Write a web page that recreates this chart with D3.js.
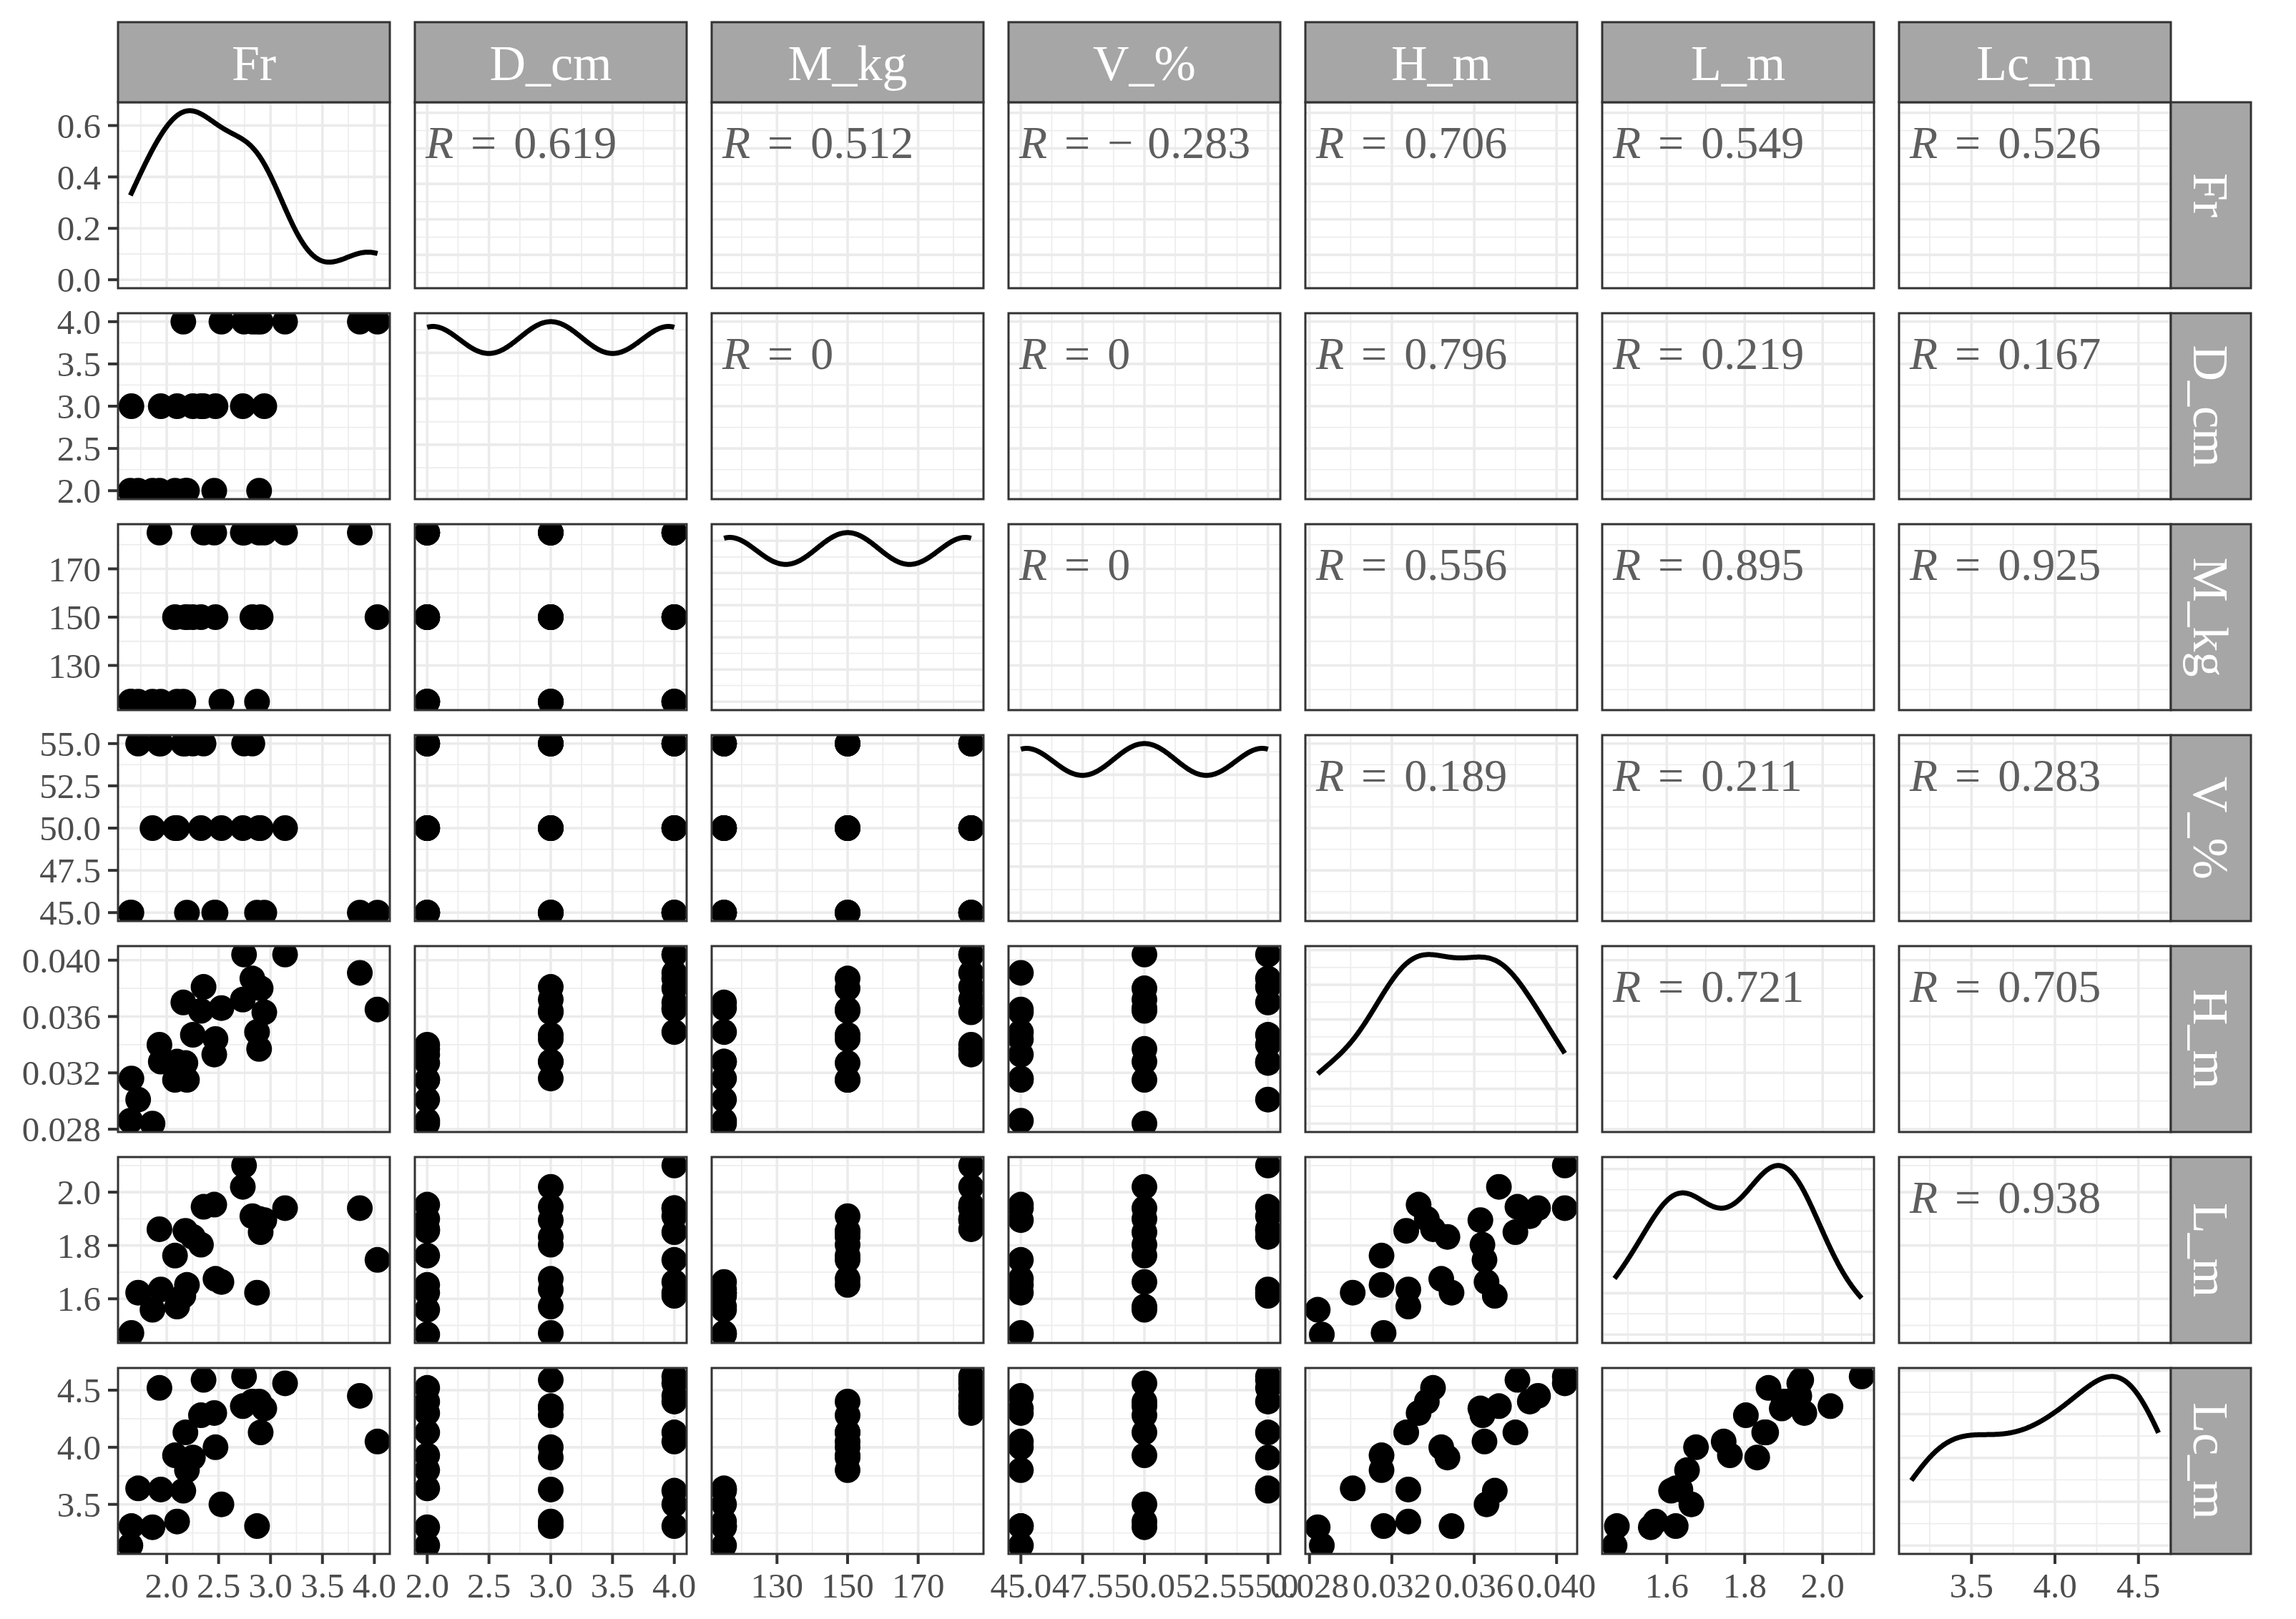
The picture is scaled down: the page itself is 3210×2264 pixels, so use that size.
<!DOCTYPE html>
<html>
<head>
<meta charset="utf-8">
<script src="https://cdn.jsdelivr.net/npm/d3@7"></script>
<style>
  body { margin: 0; background: #fff; }
  text { font-family: "Liberation Serif", "DejaVu Serif", serif; }
</style>
</head>
<body>
<svg id="chart"></svg>
<script>
var width = 3210,
    height = 2264;

// variable names (strip labels)
var varNames = ["Fr", "D_cm", "M_kg", "V_%", "H_m", "L_m", "Lc_m"];

// 27 runs
var D_cm = [2, 2, 2, 2, 2, 2, 2, 2, 2, 3, 3, 3, 3, 3, 3, 3, 3, 3, 4, 4, 4, 4, 4, 4, 4, 4, 4];
var M_kg = [115, 115, 115, 150, 150, 150, 185, 185, 185, 115, 115, 115, 150, 150, 150, 185, 185, 185, 115, 115, 115, 150, 150, 150, 185, 185, 185];
var V_pct = [45, 50, 55, 45, 50, 55, 45, 50, 55, 45, 50, 55, 45, 50, 55, 45, 50, 55, 45, 50, 55, 45, 50, 55, 45, 50, 55];
var Fr = [1.65, 1.863, 1.725, 2.195, 2.08, 2.18, 2.458, 2.89, 1.93,
          1.66, 2.10, 1.943, 2.47, 2.33, 2.252, 2.94, 2.733, 2.355,
          2.87, 2.527, 2.16, 4.03, 2.905, 2.825, 3.86, 3.14, 2.745];
var H_m = [0.0286, 0.0284, 0.0301, 0.0315, 0.0315, 0.0327, 0.0333, 0.0337, 0.0340,
           0.0316, 0.0328, 0.0328, 0.0344, 0.0364, 0.0347, 0.0363, 0.0372, 0.0381,
           0.0349, 0.0366, 0.0370, 0.0365, 0.0380, 0.0387, 0.0391, 0.0404, 0.0404];
var L_m = [1.466, 1.559, 1.623, 1.652, 1.762, 1.855, 1.953, 1.900, 1.861,
           1.472, 1.571, 1.635, 1.675, 1.803, 1.832, 1.895, 2.020, 1.945,
           1.623, 1.663, 1.611, 1.746, 1.850, 1.910, 1.940, 1.940, 2.100];
var Lc_m = [3.14, 3.30, 3.64, 3.80, 3.93, 4.13, 4.30, 4.40, 4.52,
            3.31, 3.35, 3.63, 4.00, 4.28, 3.91, 4.34, 4.36, 4.59,
            3.31, 3.50, 3.62, 4.05, 4.13, 4.40, 4.45, 4.56, 4.62];

// correlation labels, upper triangle row by row
var rFr = [0.619, 0.512, -0.283, 0.706, 0.549, 0.526];
var rD = [0, 0, 0.796, 0.219, 0.167];
var rM = [0, 0.556, 0.895, 0.925];
var rV = [0.189, 0.211, 0.283];
var rH = [0.721, 0.705];
var rL = [0.938];

// tick labels
var frTicks = [2.0, 2.5, 3.0, 3.5, 4.0];
var dTicks = [2.0, 2.5, 3.0, 3.5, 4.0];
var mTicks = [130, 150, 170];
var vTicks = [45.0, 47.5, 50.0, 52.5, 55.0];
var hTicks = [0.028, 0.032, 0.036, 0.040];
var lTicks = [1.6, 1.8, 2.0];
var lcTicks = [3.5, 4.0, 4.5];

var columns = [Fr, D_cm, M_kg, V_pct, H_m, L_m, Lc_m];
var tickSets = [frTicks, dTicks, mTicks, vTicks, hTicks, lTicks, lcTicks];
var formats = [".1f", ".1f", "d", ".1f", ".3f", ".1f", ".1f"].map(f => d3.format(f));
var rRows = [rFr, rD, rM, rV, rH, rL];

var left0 = 165, top0 = 143,
    pw = 380, ph = 260,
    stepX = 415, stepY = 295,
    stripH = 112, stripW = 112;

var nv = varNames.length;

var svg = d3.select('#chart')
    .attr('width', width)
    .attr('height', height);

svg.append('rect').attr('width', width).attr('height', height).attr('fill', '#fff');

var xScales = columns.map(vals => {
    var ext = d3.extent(vals), pad = (ext[1] - ext[0]) * 0.05;
    return d3.scaleLinear().domain([ext[0] - pad, ext[1] + pad]).range([0, pw]);
});
var yScales = columns.map(vals => {
    var ext = d3.extent(vals), pad = (ext[1] - ext[0]) * 0.05;
    return d3.scaleLinear().domain([ext[0] - pad, ext[1] + pad]).range([ph, 0]);
});

// gaussian kde with bw.nrd0, evaluated over the data range
function kde(vals) {
    var s = vals.slice().sort(d3.ascending), n = s.length;
    var iqr = d3.quantile(s, 0.75) - d3.quantile(s, 0.25);
    var bw = 0.9 * Math.min(d3.deviation(s), iqr / 1.34) * Math.pow(n, -0.2);
    var lo = s[0], hi = s[n - 1];
    return d3.range(512).map(k => {
        var x = lo + (hi - lo) * k / 511;
        var dens = d3.sum(s, v => Math.exp(-0.5 * Math.pow((x - v) / bw, 2))) / (n * bw * Math.sqrt(2 * Math.PI));
        return [x, dens];
    });
}
var dens = columns.map(kde);
var densY = dens.map(d => {
    var mx = d3.max(d, p => p[1]);
    return d3.scaleLinear().domain([-0.05 * mx, 1.05 * mx]).range([ph, 0]);
});
var densTicks = densY.map(s => d3.ticks(0, s.domain()[1], 4));

function minorTicks(major, domain) {
    var st = major[1] - major[0], out = [];
    for (var k = -1; k < major.length; k++) {
        var m = major[0] + (k + 0.5) * st;
        if (m > domain[0] && m < domain[1]) out.push(m);
    }
    return out;
}

for (var i = 0; i < nv; i++) {
    for (var j = 0; j < nv; j++) {
        var x = xScales[j];
        var y = (i === j) ? densY[j] : yScales[i];
        var yMajor = (i === j) ? densTicks[j] : tickSets[i];
        var xMajor = tickSets[j];

        var g = svg.append('g')
            .attr('transform', `translate(${left0 + j * stepX},${top0 + i * stepY})`);

        g.append('clipPath').attr('id', `clip-${i}-${j}`)
            .append('rect').attr('width', pw).attr('height', ph);

        var grid = g.append('g');
        minorTicks(xMajor, x.domain()).forEach(t => {
            grid.append('line').attr('x1', x(t)).attr('x2', x(t)).attr('y1', 0).attr('y2', ph)
                .attr('stroke', '#ededed').attr('stroke-width', 1.8);
        });
        minorTicks(yMajor, y.domain()).forEach(t => {
            grid.append('line').attr('y1', y(t)).attr('y2', y(t)).attr('x1', 0).attr('x2', pw)
                .attr('stroke', '#ededed').attr('stroke-width', 1.8);
        });
        xMajor.forEach(t => {
            grid.append('line').attr('x1', x(t)).attr('x2', x(t)).attr('y1', 0).attr('y2', ph)
                .attr('stroke', '#ebebeb').attr('stroke-width', 3.6);
        });
        yMajor.forEach(t => {
            grid.append('line').attr('y1', y(t)).attr('y2', y(t)).attr('x1', 0).attr('x2', pw)
                .attr('stroke', '#ebebeb').attr('stroke-width', 3.6);
        });

        if (i === j) {
            g.append('path')
                .datum(dens[j])
                .attr('clip-path', `url(#clip-${i}-${j})`)
                .attr('fill', 'none')
                .attr('stroke', '#000')
                .attr('stroke-width', 7)
                .attr('stroke-linejoin', 'round')
                .attr('d', d3.line().x(p => x(p[0])).y(p => y(p[1])));
        } else if (i > j) {
            var xs = columns[j], ys = columns[i];
            g.append('g').attr('clip-path', `url(#clip-${i}-${j})`)
                .selectAll('circle')
                .data(d3.range(xs.length))
                .join('circle')
                .attr('cx', k => x(xs[k]))
                .attr('cy', k => y(ys[k]))
                .attr('r', 18)
                .attr('fill', '#000');
        } else {
            var v = rRows[i][j - i - 1];
            var txt = g.append('text')
                .attr('x', 15)
                .attr('y', 78)
                .attr('font-size', 64)
                .attr('fill', '#5e5e5e');
            txt.append('tspan').attr('font-style', 'italic').text('R');
            txt.append('tspan').attr('dx', 24).text('=');
            if (v < 0) {
                txt.append('tspan').attr('dx', 24).text('\u2212');
                txt.append('tspan').attr('dx', 20).text(d3.format('.3f')(-v));
            } else {
                txt.append('tspan').attr('dx', 24).text(v === 0 ? '0' : d3.format('.3f')(v));
            }
        }

        g.append('rect')
            .attr('width', pw).attr('height', ph)
            .attr('fill', 'none')
            .attr('stroke', '#333')
            .attr('stroke-width', 3);
    }
}

// left axis
for (var i = 0; i < nv; i++) {
    var y = (i === 0) ? densY[0] : yScales[i];
    var ticks = (i === 0) ? densTicks[0] : tickSets[i];
    var fmt = (i === 0) ? d3.format('.1f') : formats[i];
    var ga = svg.append('g').attr('transform', `translate(${left0},${top0 + i * stepY})`);
    ticks.forEach(t => {
        ga.append('line').attr('x1', -14).attr('x2', 0).attr('y1', y(t)).attr('y2', y(t))
            .attr('stroke', '#333').attr('stroke-width', 4);
        ga.append('text').attr('x', -24).attr('y', y(t)).attr('dy', '0.35em')
            .attr('text-anchor', 'end').attr('font-size', 49).attr('fill', '#4d4d4d')
            .text(fmt(t));
    });
}

// bottom axis
for (var j = 0; j < nv; j++) {
    var x = xScales[j];
    var gb = svg.append('g').attr('transform', `translate(${left0 + j * stepX},${top0 + (nv - 1) * stepY + ph})`);
    tickSets[j].forEach(t => {
        gb.append('line').attr('x1', x(t)).attr('x2', x(t)).attr('y1', 0).attr('y2', 14)
            .attr('stroke', '#333').attr('stroke-width', 4);
        gb.append('text').attr('x', x(t)).attr('y', 61)
            .attr('text-anchor', 'middle').attr('font-size', 49).attr('fill', '#4d4d4d')
            .text(formats[j](t));
    });
}

// top strips
varNames.forEach((name, j) => {
    var gs = svg.append('g').attr('transform', `translate(${left0 + j * stepX},${top0 - stripH})`);
    gs.append('rect').attr('width', pw).attr('height', stripH)
        .attr('fill', '#a6a6a6').attr('stroke', '#333').attr('stroke-width', 3);
    gs.append('text').attr('x', pw / 2).attr('y', 81)
        .attr('text-anchor', 'middle').attr('font-size', 70).attr('fill', '#fff')
        .text(name);
});

// right strips
varNames.forEach((name, i) => {
    var rx = left0 + (nv - 1) * stepX + pw;
    var gs = svg.append('g').attr('transform', `translate(${rx},${top0 + i * stepY})`);
    gs.append('rect').attr('width', stripW).attr('height', ph)
        .attr('fill', '#a6a6a6').attr('stroke', '#333').attr('stroke-width', 3);
    gs.append('text')
        .attr('transform', `translate(${stripW / 2 - 24},${ph / 2}) rotate(90)`)
        .attr('text-anchor', 'middle').attr('font-size', 70).attr('fill', '#fff')
        .text(name);
});
</script>
</body>
</html>
